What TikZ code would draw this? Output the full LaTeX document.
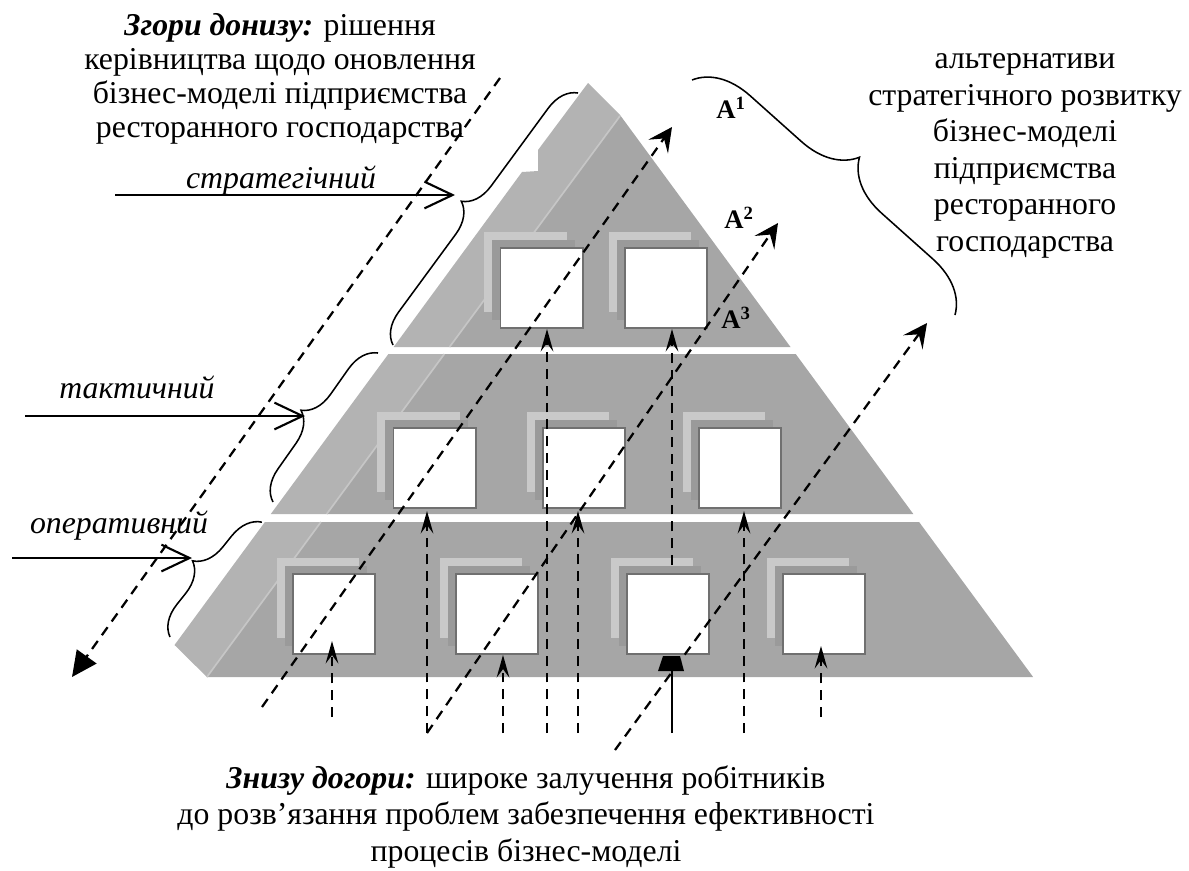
\documentclass[tikz,border=0pt]{standalone}
\usepackage{fontspec}
\setmainfont{Liberation Serif}
\usetikzlibrary{arrows.meta, decorations.pathreplacing, shadows, calc}

\definecolor{sidegray}{HTML}{B3B3B3}
\definecolor{frontgray}{HTML}{A6A6A6}
\definecolor{edgegray}{HTML}{C6C6C6}
\definecolor{shadelight}{HTML}{C9C9C9}
\definecolor{shadedark}{HTML}{9A9A9A}
\definecolor{cellline}{HTML}{707070}

\begin{document}
\begin{tikzpicture}[x=0.025cm, y=-0.025cm]
    % Styles
    \tikzstyle{side} = [fill=sidegray]
    \tikzstyle{front} = [fill=frontgray]
    \tikzstyle{edge} = [draw=edgegray, line width=1.2pt]
    \tikzstyle{cell} = [rectangle, draw=cellline, line width=1.4pt, fill=white, minimum width=2.05cm, minimum height=2cm, inner sep=0pt,
        copy shadow={shadow xshift=-0.4cm, shadow yshift=0.4cm, fill=shadelight, draw=none},
        copy shadow={shadow xshift=-0.2cm, shadow yshift=0.2cm, fill=shadedark, draw=none}]
    \tikzstyle{txt} = [font=\fontsize{22.6}{25.9}\selectfont, align=center, inner sep=0pt, anchor=base]
    \tikzstyle{lvl} = [font=\fontsize{22.6}{26}\selectfont\itshape, inner sep=0pt, anchor=base]
    \tikzstyle{alt} = [font=\fontsize{19}{19}\selectfont\bfseries, inner sep=0pt, anchor=base west]
    \tikzstyle{levelarrow} = [-{Straight Barb[length=20pt, width=19pt]}, line width=1.5pt]
    \tikzstyle{brc} = [decorate, decoration={brace, amplitude=0.75cm}, line width=1.1pt]
    \tikzstyle{bigbrc} = [decorate, decoration={brace, amplitude=1.35cm}, line width=1.1pt]
    \tikzstyle{dashline} = [dash pattern=on 7pt off 5pt, line width=1.6pt]
    \tikzstyle{uparrow} = [dashline, -{Stealth[length=16pt, width=9pt, inset=6pt]}]
    \tikzstyle{altarrow} = [dashline, -{Stealth[length=17pt, width=17pt, inset=7pt]}]
    \tikzstyle{downarrow} = [dashline, -{Triangle[length=18pt, width=17pt]}]

    \useasboundingbox (0,0) rectangle (1189,870);

    % Pyramid tiers
    \path[side] (588,83) -- (620,115) -- (449.5,347) -- (393.6,347) -- (522,172) -- (538,171) -- (538,150) -- cycle;
    \path[front] (620,115) -- (790.5,347) -- (449.5,347) -- cycle;
    \path[side] (388.4,354) -- (444.3,354) -- (326.7,514) -- (270.8,514) -- cycle;
    \path[front] (444.3,354) -- (795.7,354) -- (913.3,514) -- (326.7,514) -- cycle;
    \path[side] (264.9,522) -- (320.9,522) -- (206.9,677) -- (174.5,645) -- cycle;
    \path[front] (320.9,522) -- (919.1,522) -- (1033.1,677) -- (206.9,677) -- cycle;
    \draw[edge] (620,116) -- (449.5,347);
    \draw[edge] (444.3,354) -- (326.7,514);
    \draw[edge] (320.9,522) -- (206.9,677);

    % Cells
    \node[cell] (t1) at (541.5,288) {};
    \node[cell] (t2) at (666,288) {};
    \node[cell] (m1) at (434.5,468) {};
    \node[cell] (m2) at (584,468) {};
    \node[cell] (m3) at (740,468) {};
    \node[cell] (b1) at (334,614) {};
    \node[cell] (b2) at (497,614) {};
    \node[cell] (b3) at (668,614) {};
    \node[cell] (b4) at (824,614) {};

    % Texts
    \node[txt, font=\fontsize{22.6}{24}\selectfont] (topdown) at (280,137) {\textbf{\textit{Згори донизу:}} рішення\\керівництва щодо оновлення\\бізнес-моделі підприємства\\ресторанного господарства};
    \node[txt] (alts) at (1025,251) {альтернативи\\стратегічного розвитку\\бізнес-моделі\\підприємства\\ресторанного\\господарства};
    \node[txt] (bottomup) at (526,861) {\textbf{\textit{Знизу догори:}} широке залучення робітників\\до розв’язання проблем забезпечення ефективності\\процесів бізнес-моделі};
    \node[lvl] (strat) at (281,188) {стратегічний};
    \node[lvl] (tact) at (137,398) {тактичний};
    \node[lvl] (oper) at (119,533) {оперативний};
    \node[alt] (a1) at (716,118) {A\textsuperscript{1}};
    \node[alt] (a2) at (724,228) {A\textsuperscript{2}};
    \node[alt] (a3) at (721,328) {A\textsuperscript{3}};

    % Free ends
    \coordinate (strat-in) at (115,195);
    \coordinate (strat-tip) at (455,195);
    \coordinate (tact-in) at (25,416);
    \coordinate (tact-tip) at (305,416);
    \coordinate (oper-in) at (12,558);
    \coordinate (oper-tip) at (192,558);
    \coordinate (brS-b) at (393,345);
    \coordinate (brS-t) at (578,93);
    \coordinate (brT-b) at (273,502);
    \coordinate (brT-t) at (378,353);
    \coordinate (brO-b) at (170,637);
    \coordinate (brO-t) at (262,522);
    \coordinate (brA-t) at (692,80);
    \coordinate (brA-b) at (955,315);
    \coordinate (down-s) at (500,78);
    \coordinate (down-e) at (72,677);
    \coordinate (alt1-s) at (262,707);
    \coordinate (alt1-e) at (672,127);
    \coordinate (alt2-s) at (427,733);
    \coordinate (alt2-e) at (778,223);
    \coordinate (alt3-s) at (615,750);
    \coordinate (alt3-e) at (927,323);
    \coordinate (v1) at (332,717);
    \coordinate (v2) at (427,733);
    \coordinate (v3) at (503,733);
    \coordinate (v4) at (547,733);
    \coordinate (v5) at (578,733);
    \coordinate (v6) at (672,733);
    \coordinate (v7) at (744,733);
    \coordinate (v8) at (821,717);

    % Levels
    \draw[levelarrow] (strat-in) -- (strat-tip);
    \draw[levelarrow] (tact-in) -- (tact-tip);
    \draw[levelarrow] (oper-in) -- (oper-tip);
    \draw[brc] (brS-b) -- (brS-t);
    \draw[brc] (brT-b) -- (brT-t);
    \draw[brc] (brO-b) -- (brO-t);
    \draw[bigbrc] (brA-t) -- (brA-b);

    % Top-down and alternatives
    \draw[downarrow] (down-s) -- (down-e);
    \draw[altarrow] (alt1-s) -- (alt1-e);
    \draw[altarrow] (alt2-s) -- (alt2-e);
    \draw[altarrow] (alt3-s) -- (alt3-e);

    % Bottom-up
    \draw[uparrow] (v1) -- ($(v1 |- b1.south)+(0,-14)$);
    \draw[uparrow] (v2) -- ($(v2 |- m1.south)+(0,2)$);
    \draw[uparrow] (v3) -- (v3 |- b2.south);
    \draw[uparrow] (v4) -- (v4 |- t1.south);
    \draw[uparrow] (v5) -- ($(v5 |- m2.south)+(0,2)$);
    \draw[line width=1.5pt] (v6) -- ($(v6 |- b3.south)+(0,15)$);
    \fill ($(v6 |- b3.south)+(-9,1)$) -- ++(17,0) -- ++(4,15) -- ++(-26,0) -- cycle;
    \draw[uparrow] ($(v6 |- b3.north)+(0,-8)$) -- (v6 |- t2.south);
    \draw[uparrow] (v7) -- ($(v7 |- m3.south)+(0,2)$);
    \draw[uparrow] (v8) -- ($(v8 |- b4.south)+(0,-9)$);
\end{tikzpicture}
\end{document}
